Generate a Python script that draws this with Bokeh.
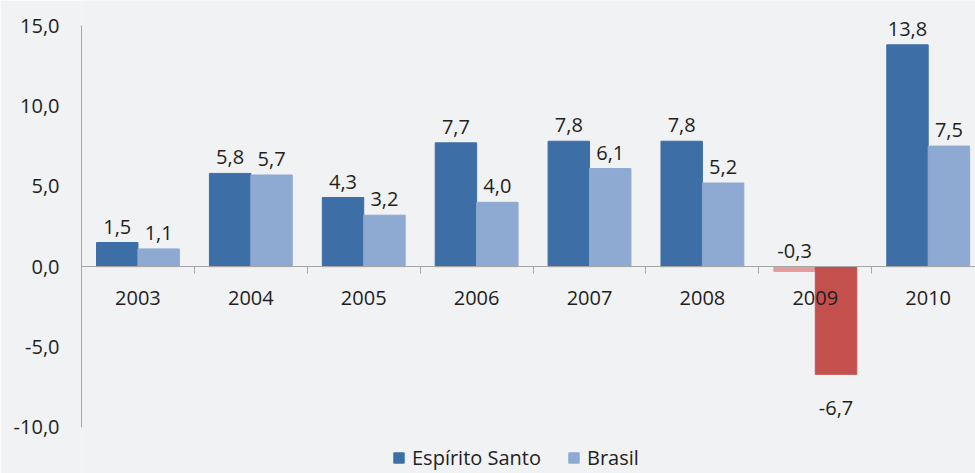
from bokeh.plotting import figure
from bokeh.models import ColumnDataSource, Range1d, FixedTicker, Legend, LegendItem
from bokeh.core.properties import value
from bokeh.embed import file_html
from bokeh.resources import INLINE

# ---- data ----
years = ["2003", "2004", "2005", "2006", "2007", "2008", "2009", "2010"]
espirito_santo = [1.5, 5.8, 4.3, 7.7, 7.8, 7.8, -0.3, 13.8]
brasil = [1.1, 5.7, 3.2, 4.0, 6.1, 5.2, -6.7, 7.5]
y_ticks = [-10, -5, 0, 5, 10, 15]

# ---- style ----
BG = "#f1f2f4"
ES_BLUE = "#3d6fa6"
BR_BLUE = "#8eaad2"
ES_RED = "#e39d9c"
BR_RED = "#c4504e"
AXIS = "#a6a6a6"
TEXT = "#231f20"
FONT = "Open Sans"
FS = "20px"
BW = 0.367


def fmt(v):
    return f"{v:.1f}".replace(".", ",")


n = len(years)
centers = [i + 0.5 for i in range(n)]

p = figure(width=975, height=473,
           x_range=Range1d(0, 7.919), y_range=Range1d(-12.87, 16.556),
           output_backend="svg", toolbar_location=None,
           min_border_left=81, min_border_right=0, min_border_top=0, min_border_bottom=0,
           background_fill_color=BG, border_fill_color=BG, outline_line_color=None)

es_src = ColumnDataSource(dict(
    x=[c - BW / 2 for c in centers], top=espirito_santo,
    color=[ES_RED if v < 0 else ES_BLUE for v in espirito_santo]))
br_src = ColumnDataSource(dict(
    x=[c + BW / 2 for c in centers], top=brasil,
    color=[BR_RED if v < 0 else BR_BLUE for v in brasil]))

r_es = p.vbar(x="x", top="top", bottom=0, width=BW, fill_color="color",
              line_color="color", source=es_src)
r_br = p.vbar(x="x", top="top", bottom=0, width=BW, fill_color="color",
              line_color="color", source=br_src)

# data labels
above = dict(x=[], y=[], t=[])
below = dict(x=[], y=[], t=[])
for i in range(n):
    for xv, v in ((centers[i] - BW / 2, espirito_santo[i]), (centers[i] + BW / 2, brasil[i])):
        if v > -1:
            above["x"].append(xv); above["y"].append(max(v, 0)); above["t"].append(fmt(v))
        else:
            below["x"].append(xv); below["y"].append(v); below["t"].append(fmt(v))

p.text(x="x", y="y", text="t", source=ColumnDataSource(above), y_offset=-16,
       text_align="center", text_baseline="alphabetic", text_font=value(FONT),
       text_font_size=FS, text_color=TEXT)
p.text(x="x", y="y", text="t", source=ColumnDataSource(below), y_offset=34,
       text_align="center", text_baseline="alphabetic", text_font=value(FONT),
       text_font_size=FS, text_color=TEXT)

# axes
p.xgrid.visible = False
p.ygrid.visible = False

yax = p.yaxis[0]
yax.ticker = FixedTicker(ticks=y_ticks)
yax.major_label_overrides = {v: fmt(v) for v in y_ticks}
yax.bounds = (-10, 15)
yax.major_tick_out = 0
yax.major_tick_in = 0
yax.minor_tick_out = 0
yax.minor_tick_in = 0
yax.axis_line_color = AXIS
yax.major_label_standoff = 22
yax.major_label_text_font = FONT
yax.major_label_text_font_size = FS
yax.major_label_text_color = TEXT

xax = p.xaxis[0]
xax.fixed_location = 0
xax.ticker = FixedTicker(ticks=centers, minor_ticks=list(range(1, n)))
xax.major_label_overrides = {c: y for c, y in zip(centers, years)}
xax.major_tick_out = 0
xax.major_tick_in = 0
xax.minor_tick_out = 7
xax.minor_tick_in = 0
xax.minor_tick_line_color = AXIS
xax.axis_line_color = AXIS
xax.major_label_standoff = 17
xax.major_label_text_font = FONT
xax.major_label_text_font_size = FS
xax.major_label_text_color = TEXT

legend = Legend(items=[LegendItem(label="Espírito Santo", renderers=[r_es], index=0),
                       LegendItem(label="Brasil", renderers=[r_br], index=0)],
                orientation="horizontal", location=(311, 2),
                glyph_width=13, glyph_height=13, label_standoff=7, spacing=26,
                padding=0, margin=0, border_line_color=None, background_fill_alpha=0,
                label_text_font=FONT, label_text_font_size=FS, label_text_color=TEXT)
p.add_layout(legend)

html = file_html(p, INLINE)
html = html.replace("<body>", '<body style="background-color:#f1f2f4;">', 1)
open("out.html", "w").write(html)
